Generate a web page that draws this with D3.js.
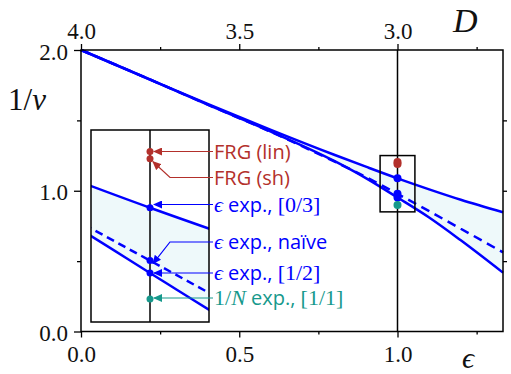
<!DOCTYPE html>
<html>
<head>
<meta charset="utf-8">
<script src="https://cdn.jsdelivr.net/npm/d3@7"></script>
<style>
  body { margin: 0; background: #fff; }
  svg { display: block; }
</style>
</head>
<body>
<div id="chart"></div>
<script>
// epsilon grid the curves were read at
const eps = [0, 0.2, 0.4, 0.6, 0.8, 0.9, 1.0, 1.1, 1.2, 4 / 3];
const pade03 = [2.0, 1.807, 1.617, 1.433, 1.256, 1.171, 1.088, 1.010, 0.936, 0.847];
const naive = [2.0, 1.808, 1.612, 1.418, 1.208, 1.098, 0.978, 0.855, 0.730, 0.562];
const pade12 = [2.0, 1.808, 1.612, 1.420, 1.212, 1.090, 0.952, 0.810, 0.648, 0.418];

// estimates at eps = 1 (D = 3)
const estNames = ['FRG (lin)', 'FRG (sh)', 'eps03', 'epsNaive', 'eps12', 'largeN'];
const estValues = [1.205, 1.19, 1.088, 0.978, 0.952, 0.898];
const estColors = ['#b3302b', '#b3302b', '#0000ff', '#0000ff', '#0000ff', '#17998c'];

const xTicks = [0, 0.5, 1.0];
const xMinor = [0.25, 0.75, 1.25];
const dTicks = [4.0, 3.5, 3.0];
const dMinor = [3.75, 3.25, 2.75];
const yTicks = [0, 1, 2];
const yMinor = [0.5, 1.5];

const W = 511, H = 374;
const serif = '"Liberation Serif", "DejaVu Serif", serif';
const sans = '"Open Sans", "Noto Sans", sans-serif';

const svg = d3.select('#chart').append('svg')
  .attr('width', W).attr('height', H);

const x = d3.scaleLinear().domain([0, 4 / 3]).range([81, 503]);
const xD = d3.scaleLinear().domain([4, 4 - 4 / 3]).range([81, 503]);
const y = d3.scaleLinear().domain([0, 2]).range([331.5, 50]);

const pts = vals => eps.map((e, i) => [e, vals[i]]);

// shaded band between the two Pade curves
const band = (sx, sy) => d3.area()
  .x((d, i) => sx(eps[i]))
  .y0((d, i) => sy(pade12[i]))
  .y1((d, i) => sy(pade03[i]))
  .curve(d3.curveMonotoneX);
const line = (sx, sy) => d3.line()
  .x(d => sx(d[0])).y(d => sy(d[1]))
  .curve(d3.curveMonotoneX);

svg.append('path').datum(eps)
  .attr('d', band(x, y)).attr('fill', '#eef9fa');

[pade03, pade12].forEach(v => {
  svg.append('path').datum(pts(v))
    .attr('d', line(x, y)).attr('fill', 'none')
    .attr('stroke', '#0000ff').attr('stroke-width', 2.5);
});
svg.append('path').datum(pts(naive))
  .attr('d', line(x, y)).attr('fill', 'none')
  .attr('stroke', '#0000ff').attr('stroke-width', 2.5)
  .attr('stroke-dasharray', '9,6');

// vertical line at D = 3
svg.append('line')
  .attr('x1', x(1)).attr('x2', x(1))
  .attr('y1', y(2)).attr('y2', y(0))
  .attr('stroke', '#000').attr('stroke-width', 1.5);

// dots at eps = 1
svg.selectAll('.dot').data(estValues).enter()
  .append('circle')
  .attr('cx', x(1)).attr('cy', d => y(d))
  .attr('r', 4)
  .attr('fill', (d, i) => estColors[i]);

// zoom box
const zx = [0.945, 1.055], zy = [0.85, 1.25];
svg.append('rect')
  .attr('x', x(zx[0])).attr('y', y(zy[1]))
  .attr('width', x(zx[1]) - x(zx[0]))
  .attr('height', y(zy[0]) - y(zy[1]))
  .attr('fill', 'none').attr('stroke', '#000').attr('stroke-width', 1.5);

// axes
function styleAxis(g, labels) {
  g.select('.domain').remove();
  g.selectAll('.tick line').attr('stroke', '#000').attr('stroke-width', 1.3);
  if (labels) {
    g.selectAll('.tick text')
      .attr('font-family', serif).attr('font-size', 23).attr('fill', '#111');
  } else {
    g.selectAll('.tick text').remove();
  }
}
const fmt = d3.format('.1f');

svg.append('g').attr('transform', `translate(0,${y(0)})`)
  .call(d3.axisBottom(x).tickValues(xTicks).tickFormat(fmt).tickSize(6).tickPadding(8))
  .call(g => styleAxis(g, true));
svg.append('g').attr('transform', `translate(0,${y(0)})`)
  .call(d3.axisBottom(x).tickValues(xMinor).tickSize(3))
  .call(g => styleAxis(g, false));

svg.append('g').attr('transform', `translate(0,${y(2)})`)
  .call(d3.axisTop(xD).tickValues(dTicks).tickFormat(fmt).tickSize(6).tickPadding(5))
  .call(g => styleAxis(g, true));
svg.append('g').attr('transform', `translate(0,${y(2)})`)
  .call(d3.axisTop(xD).tickValues(dMinor).tickSize(3))
  .call(g => styleAxis(g, false));

svg.append('g').attr('transform', `translate(${x(0)},0)`)
  .call(d3.axisLeft(y).tickValues(yTicks).tickFormat(fmt).tickSize(7).tickPadding(6))
  .call(g => styleAxis(g, true))
  .call(g => g.selectAll('.tick text').attr('dy', '0.4em'));
svg.append('g').attr('transform', `translate(${x(0)},0)`)
  .call(d3.axisLeft(y).tickValues(yMinor).tickSize(4))
  .call(g => styleAxis(g, false));

svg.append('g').attr('transform', `translate(${x(4 / 3)},0)`)
  .call(d3.axisRight(y).tickValues(yMinor.concat([1])).tickSize(4))
  .call(g => styleAxis(g, false));

// frame
svg.append('rect')
  .attr('x', x(0)).attr('y', y(2))
  .attr('width', x(4 / 3) - x(0)).attr('height', y(0) - y(2))
  .attr('fill', 'none').attr('stroke', '#000').attr('stroke-width', 1.5);

// axis titles
const yt = svg.append('text').attr('x', 8).attr('y', 110)
  .attr('font-family', serif).attr('font-size', 31).attr('fill', '#111');
yt.append('tspan').text('1/');
yt.append('tspan').attr('font-style', 'italic').text('ν');

svg.append('text').attr('x', 453).attr('y', 32)
  .attr('font-family', serif).attr('font-size', 34).attr('font-style', 'italic')
  .attr('fill', '#111').text('D');

svg.append('text').attr('x', 462).attr('y', 368)
  .attr('font-family', serif).attr('font-size', 30).attr('font-style', 'italic')
  .attr('fill', '#111').text('ϵ');

// ---- inset ----
const xi = d3.scaleLinear().domain(zx).range([91, 209]);
const yi = d3.scaleLinear().domain(zy).range([322, 130]);

svg.append('clipPath').attr('id', 'insetClip')
  .append('rect')
  .attr('x', xi(zx[0])).attr('y', yi(zy[1]))
  .attr('width', xi(zx[1]) - xi(zx[0])).attr('height', yi(zy[0]) - yi(zy[1]));

const inset = svg.append('g');
inset.append('rect')
  .attr('x', xi(zx[0])).attr('y', yi(zy[1]))
  .attr('width', xi(zx[1]) - xi(zx[0])).attr('height', yi(zy[0]) - yi(zy[1]))
  .attr('fill', '#fff');

const inClip = inset.append('g').attr('clip-path', 'url(#insetClip)');
inClip.append('path').datum(eps)
  .attr('d', band(xi, yi)).attr('fill', '#eef9fa');
[pade03, pade12].forEach(v => {
  inClip.append('path').datum(pts(v))
    .attr('d', line(xi, yi)).attr('fill', 'none')
    .attr('stroke', '#0000ff').attr('stroke-width', 2.5);
});
inClip.append('path').datum(pts(naive))
  .attr('d', line(xi, yi)).attr('fill', 'none')
  .attr('stroke', '#0000ff').attr('stroke-width', 2.5)
  .attr('stroke-dasharray', '8,5');

inset.append('line')
  .attr('x1', xi(1)).attr('x2', xi(1))
  .attr('y1', yi(zy[1])).attr('y2', yi(zy[0]))
  .attr('stroke', '#000').attr('stroke-width', 1.5);

inset.selectAll('.idot').data(estValues).enter()
  .append('circle')
  .attr('cx', xi(1)).attr('cy', d => yi(d))
  .attr('r', 3.5)
  .attr('fill', (d, i) => estColors[i]);

inset.append('rect')
  .attr('x', xi(zx[0])).attr('y', yi(zy[1]))
  .attr('width', xi(zx[1]) - xi(zx[0])).attr('height', yi(zy[0]) - yi(zy[1]))
  .attr('fill', 'none').attr('stroke', '#000').attr('stroke-width', 1.5);

// arrowheads, one per colour
const defs = svg.append('defs');
const uniq = Array.from(new Set(estColors));
uniq.forEach((c, k) => {
  defs.append('marker').attr('id', 'arr' + k)
    .attr('markerUnits', 'userSpaceOnUse')
    .attr('markerWidth', 9).attr('markerHeight', 8)
    .attr('refX', 8).attr('refY', 4).attr('orient', 'auto')
    .append('path').attr('d', 'M0,0 L9,4 L0,8 Z').attr('fill', c);
});

// label layout: baseline y, and whether the leader bends
const labelX = 214;
const labelY = [158.5, 184.5, 211.5, 249, 280, 305];
const bend = [false, true, false, true, false, false];

estValues.forEach((v, i) => {
  const ly = labelY[i] - 7;
  const tipX = xi(1) + (bend[i] ? 3 : 4);
  const tipY = yi(v) + (bend[i] ? 3 : 0);
  const p = bend[i]
    ? `M${labelX - 1},${ly} H${xi(1) + 20} L${tipX},${tipY}`
    : `M${labelX - 1},${ly} H${tipX}`;
  svg.append('path').attr('d', p)
    .attr('fill', 'none').attr('stroke', estColors[i]).attr('stroke-width', 1.2)
    .attr('marker-end', `url(#arr${uniq.indexOf(estColors[i])})`);
});

// label texts
function label(i, parts) {
  const t = svg.append('text').attr('x', labelX).attr('y', labelY[i])
    .attr('fill', estColors[i]).attr('font-size', 20).attr('font-family', sans);
  parts.forEach(p => {
    const s = t.append('tspan').text(p[0]);
    if (p[1] === 'serif') s.attr('font-family', serif).attr('font-size', 22);
    if (p[1] === 'ital') s.attr('font-family', serif).attr('font-size', 22).attr('font-style', 'italic');
  });
}
label(0, [['FRG (lin)']]);
label(1, [['FRG (sh)']]);
label(2, [['ϵ', 'ital'], [' exp., '], ['[0/3]', 'serif']]);
label(3, [['ϵ', 'ital'], [' exp., naïve']]);
label(4, [['ϵ', 'ital'], [' exp., '], ['[1/2]', 'serif']]);
label(5, [['1/', 'serif'], ['N', 'ital'], [' exp., '], ['[1/1]', 'serif']]);
</script>
</body>
</html>
